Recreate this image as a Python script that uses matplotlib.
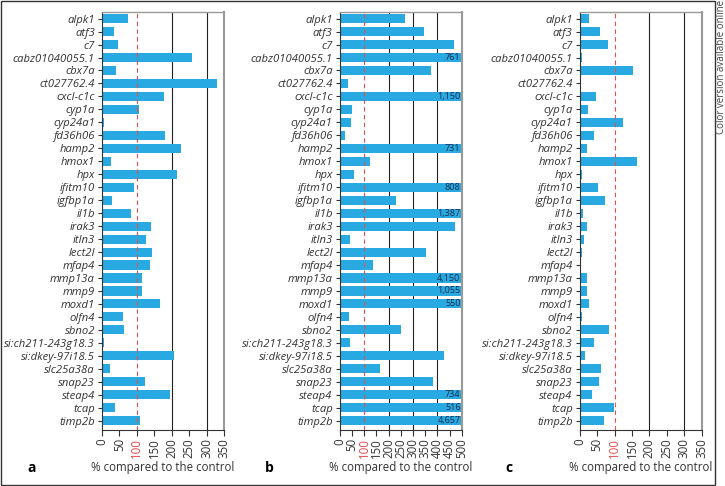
import numpy as np
import matplotlib
matplotlib.use("Agg")
import matplotlib.pyplot as plt
from matplotlib.patches import Rectangle

genes = ["alpk1", "atf3", "c7", "cabz01040055.1", "cbx7a", "ct027762.4", "cxcl-c1c",
         "cyp1a", "cyp24a1", "fd36h06", "hamp2", "hmox1", "hpx", "ifitm10", "igfbp1a",
         "il1b", "irak3", "itln3", "lect2l", "mfap4", "mmp13a", "mmp9", "moxd1", "olfn4",
         "sbno2", "si:ch211-243g18.3", "si:dkey-97i18.5", "slc25a38a", "snap23", "steap4",
         "tcap", "timp2b"]

vals_a = [76, 34, 45, 257, 41, 331, 179, 105, 7, 182, 226, 26, 214, 93, 28, 84,
          142, 125, 143, 137, 115, 115, 167, 59, 62, 5, 207, 22, 124, 194, 38, 109]
vals_b = [268, 347, 468, 761, 373, 32, 1150, 49, 45, 21, 731, 126, 59, 808, 230, 1387,
          473, 42, 353, 136, 4150, 1055, 550, 37, 251, 42, 427, 167, 382, 734, 516, 4657]
vals_c = [26, 59, 81, 8, 153, 2, 47, 24, 123, 41, 21, 163, 6, 52, 73, 10,
          21, 11, 6, 1, 20, 20, 27, 8, 84, 42, 16, 62, 54, 34, 97, 70]

ticks_a = [0, 50, 100, 150, 200, 250, 300, 350]
ticks_b = [0, 50, 100, 150, 200, 250, 300, 350, 400, 450, 500]
grid_a = [200, 300]
grid_b = [200, 300, 400]

bar_col = "#29a9e1"
W, H = 725, 486
plt.rcParams["font.family"] = ["Open Sans", "DejaVu Sans"]

fig = plt.figure(figsize=(W / 100, H / 100), dpi=100)

# frame round the figure
fig.patches.append(Rectangle((0.001, 0.002), 714 / W, 0.995, transform=fig.transFigure,
                             fill=False, edgecolor="#333333", lw=1.0))
fig.text(721 / W, 1.0, "Color version available online", rotation=90, ha="center",
         va="top", fontsize=7, color="#444444")

panels = [(102, vals_a, ticks_a, grid_a, 350, "a", 27),
          (339.7, vals_b, ticks_b, grid_b, 500, "b", 265),
          (579.7, vals_c, ticks_a, grid_a, 350, "c", 505)]

y = np.arange(len(genes))
for left, vals, ticks, grid, xmax, letter, lx in panels:
    ax = fig.add_axes([left / W, (H - 430) / H, 122 / W, 418 / H])
    ax.barh(y, vals, height=0.7, color=bar_col, zorder=2)
    for g in grid:
        ax.axvline(g, color="#222222", lw=0.8, zorder=1)
    ax.axvline(100, color="#d9534f", lw=0.8, ls=(0, (4, 3)), zorder=3)
    # values beyond the axis are written at the end of the bar
    for yi, v in zip(y, vals):
        if v > xmax:
            ax.text(xmax - xmax * 0.01, yi, f"{v:,}", ha="right", va="center",
                    fontsize=6.5, color="#1a2a4a", zorder=4)
    ax.set_xlim(0, xmax)
    ax.set_ylim(len(genes) - 0.28, -0.51)
    ax.set_yticks(y)
    ax.set_yticklabels(genes, fontstyle="italic", fontsize=8.1, color="#333333")
    ax.set_xticks(ticks)
    ax.set_xticklabels([str(t) for t in ticks], rotation=90, fontsize=8.3, color="#333333")
    for lab in ax.get_xticklabels():
        if lab.get_text() == "100":
            lab.set_color("#e04848")
    ax.tick_params(axis="y", length=3, width=0.8, pad=2, color="#333333")
    ax.tick_params(axis="x", length=4, width=0.8, pad=2, color="#333333")
    for s in ["top", "right"]:
        ax.spines[s].set_color("#999999")
        ax.spines[s].set_linewidth(1.0)
    ax.spines["right"].set_linewidth(1.5)
    for s in ["left", "bottom"]:
        ax.spines[s].set_color("#333333")
        ax.spines[s].set_linewidth(0.8)
    fig.text(lx / W, 1 - 468 / H, letter, fontsize=10, fontweight="bold", va="center")
    fig.text((left + 61) / W, 1 - 468 / H, "% compared to the control", fontsize=8.3,
             ha="center", va="center", color="#333333")

fig.savefig("out.png", dpi=100)
